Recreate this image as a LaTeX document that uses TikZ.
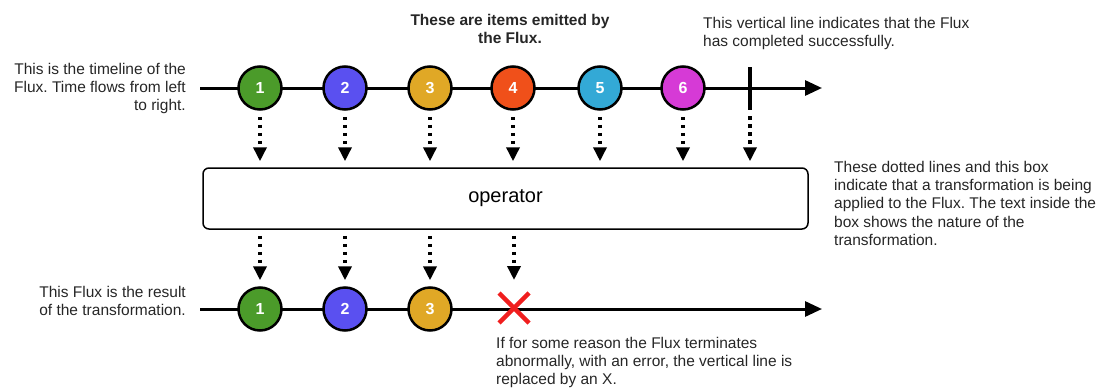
\documentclass[tikz,border=0pt]{standalone}
\usepackage{fontspec}
\setmainfont{Liberation Sans}
\usetikzlibrary{arrows.meta}
\definecolor{cA}{HTML}{4B9B2A}
\definecolor{cB}{HTML}{5A50F0}
\definecolor{cC}{HTML}{E0A826}
\definecolor{cD}{HTML}{F0501A}
\definecolor{cE}{HTML}{33A9D6}
\definecolor{cF}{HTML}{D63AD6}
\definecolor{cX}{HTML}{F01E1E}
\frenchspacing
\begin{document}
\begin{tikzpicture}[x=1pt,y=-1pt,
  item/.style={circle, draw=black, line width=2.5pt, minimum size=43pt, inner sep=0pt,
    text=white, font=\fontsize{16}{16}\selectfont\bfseries},
  tline/.style={line width=3pt, -{Triangle[length=17pt,width=15pt]}},
  darr/.style={line width=3.5pt, dash pattern=on 3.5pt off 4.5pt, -{Triangle[length=14pt,width=13pt]}},
  note/.style={inner sep=0pt, font=\fontsize{15.5}{18.2}\selectfont, text=black!85},
]
\useasboundingbox (0,0) rectangle (1114,391);

% top timeline
\coordinate (ts) at (200,88);
\coordinate (te) at (822,88);
\draw[tline] (ts) -- (te);
\coordinate (ctop) at (750,67);
\coordinate (cbot) at (750,110);
\draw[line width=4.5pt] (ctop) -- (cbot);
\node[item, fill=cA] (a1) at (260,88) {1};
\node[item, fill=cB] (a2) at (345,88) {2};
\node[item, fill=cC] (a3) at (430,88) {3};
\node[item, fill=cD] (a4) at (513,88) {4};
\node[item, fill=cE] (a5) at (600,88) {5};
\node[item, fill=cF] (a6) at (683,88) {6};

% operator box
\node[draw, rounded corners=6pt, line width=1.5pt, minimum width=605pt, minimum height=61pt,
  font=\fontsize{20}{20}\selectfont] (op) at (505.5,198.5) {operator};

\foreach \n in {a1,a2,a3,a4,a5,a6}
  \draw[darr] ([yshift=-6pt]\n.south) -- ([yshift=6pt]\n |- op.north);
\draw[darr] ([yshift=-6pt]cbot) -- ([yshift=6pt]cbot |- op.north);

% bottom timeline
\coordinate (bs) at (200,309);
\coordinate (be) at (822,309);
\draw[tline] (bs) -- (be);
\node[item, fill=cA] (b1) at (260,309) {1};
\node[item, fill=cB] (b2) at (345,309) {2};
\node[item, fill=cC] (b3) at (430,309) {3};
\coordinate (bx) at (514,308);
\draw[cX, line width=4.5pt] ([shift={(-15pt,15pt)}]bx) -- ([shift={(15pt,-15pt)}]bx)
  ([shift={(-15pt,-15pt)}]bx) -- ([shift={(15pt,15pt)}]bx);

\foreach \n in {b1,b2,b3}
  \draw[darr] ([yshift=-6pt]op.south -| \n) -- ([yshift=6pt]\n.north);
\draw[darr] ([yshift=-6pt]op.south -| bx) -- ([yshift=28pt]bx);

% notes
\node[note, anchor=north east, align=right] (n1) at (186,63)
  {This is the timeline of the\\Flux. Time flows from left\\to right.};
\node[note, anchor=north, align=center, font=\fontsize{15.5}{18.2}\selectfont\bfseries] (n2) at (510,14)
  {These are items emitted by\\the Flux.};
\node[note, anchor=north west, align=left] (n3) at (703,17)
  {This vertical line indicates that the Flux\\has completed successfully.};
\node[note, anchor=north west, align=left] (n4) at (834,161)
  {These dotted lines and this box\\indicate that a transformation is being\\applied to the Flux. The text inside the\\box shows the nature of the\\transformation.};
\node[note, anchor=north east, align=right] (n5) at (186,286)
  {This Flux is the result\\of the transformation.};
\node[note, anchor=north west, align=left] (n6) at (496,337)
  {If for some reason the Flux terminates\\abnormally, with an error, the vertical line is\\replaced by an X.};
\end{tikzpicture}
\end{document}
